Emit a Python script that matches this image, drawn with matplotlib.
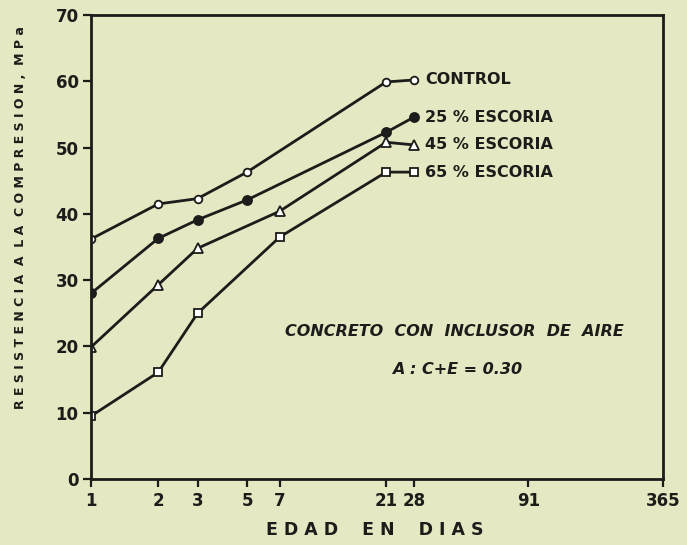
import matplotlib
matplotlib.use('Agg')
from matplotlib import pyplot as plt

PAPER = '#e5e8c2'
INK = '#1c1c1a'

days_a = [1, 2, 3, 5, 21, 28]
days_b = [1, 2, 3, 7, 21, 28]

control = [36.2, 41.5, 42.3, 46.3, 59.9, 60.2]
escoria_25 = [28.0, 36.3, 39.1, 42.1, 52.3, 54.6]
escoria_45 = [19.9, 29.3, 34.8, 40.4, 50.8, 50.4]
escoria_65 = [9.5, 16.1, 25.0, 36.5, 46.3, 46.3]

x_ticks = [1, 2, 3, 5, 7, 21, 28, 91, 365]
x_labels = ['1', '2', '3', '5', '7', '21', '28', '91', '365']
y_ticks = [0, 10, 20, 30, 40, 50, 60, 70]

series = [
    (days_a, control, 'CONTROL', dict(marker='o', ms=5.5, mfc='white')),
    (days_a, escoria_25, '25 % ESCORIA', dict(marker='o', ms=6.5, mfc=INK)),
    (days_b, escoria_45, '45 % ESCORIA', dict(marker='^', ms=6.5, mfc='white')),
    (days_b, escoria_65, '65 % ESCORIA', dict(marker='s', ms=6, mfc='white')),
]

fig = plt.figure(figsize=(6.87, 5.45), dpi=100, facecolor=PAPER)
ax = fig.add_axes([0.1325, 0.121, 0.8325, 0.8515], facecolor=PAPER)

for days, vals, label, style in series:
    ax.plot(days, vals, color=INK, lw=2.0, mec=INK, mew=1.3, **style)
    ax.annotate(label, (days[-1], vals[-1]), xytext=(8, 0), textcoords='offset points',
                ha='left', va='center', fontsize=11.5, fontweight='bold', color=INK)

ax.set_xscale('log')
ax.set_xlim(1, 365)
ax.set_ylim(0, 70)
ax.set_xticks(x_ticks)
ax.set_xticklabels(x_labels)
ax.minorticks_off()
ax.set_yticks(y_ticks)

for side in ax.spines.values():
    side.set_linewidth(2.0)
    side.set_color(INK)
ax.tick_params(axis='both', direction='out', length=6, width=1.6, colors=INK,
               labelsize=12, pad=3)
for lab in ax.get_xticklabels() + ax.get_yticklabels():
    lab.set_fontweight('bold')

fig.text(0.545, 0.027, 'E D A D    E N    D I A S', ha='center', va='center',
         fontsize=12.5, fontweight='bold', color=INK)
fig.text(0.030, 0.60, 'R E S I S T E N C I A  A  L A  C O M P R E S I O N ,  M P a',
         rotation=90, ha='center', va='center', fontsize=9.0, fontweight='bold', color=INK)

ax.text(0.635, 0.318, 'CONCRETO  CON  INCLUSOR  DE  AIRE', transform=ax.transAxes,
        ha='center', va='center', fontsize=11.5, fontweight='bold', style='italic', color=INK)
ax.text(0.64, 0.236, 'A : C+E = 0.30', transform=ax.transAxes,
        ha='center', va='center', fontsize=11.5, fontweight='bold', style='italic', color=INK)

fig.savefig('out.png', dpi=100, facecolor=PAPER)
